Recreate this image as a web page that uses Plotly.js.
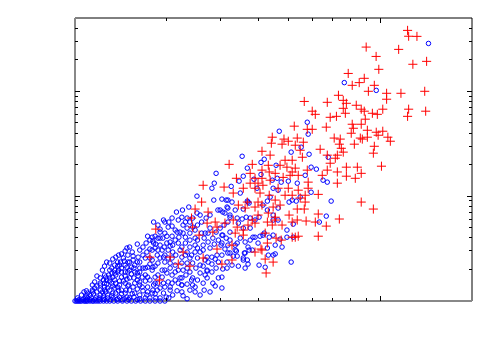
<!DOCTYPE html>
<html>
<head>
<meta charset="utf-8">
<script src="https://cdn.plot.ly/plotly-3.0.1.min.js"></script>
<style>html,body{margin:0;padding:0;background:#fff}</style>
</head>
<body>
<div id="chart" style="width:500px;height:350px"></div>
<script>
const redX = [
12.3,12.4,13.2,9.0,11.5,9.7,14.2,12.8,9.9,7.86,
8.87,8.54,8.1,9.57,9.15,10.5,11.7,14.0,10.5,7.3,
6.71,7.57,7.75,5.64,7.57,8.35,8.67,8.87,10.2,9.43,
9.79,12.4,14.1,12.3,7.69,7.19,6.86,5.99,6.13,6.66,
8.94,8.67,8.1,8.17,8.04,9.08,9.71,10.2,9.85,10.6,
10.8,9.08,8.74,8.23,7.07,7.4,7.35,7.46,9.57,5.23,
5.99,4.43,5.35,4.84,5.77,4.4,4.77,5.0,5.6,5.27,
8.61,9.5,7.24,7.57,6.36,6.71,7.13,4.1,4.36,4.88,
5.15,5.56,5.47,3.2,3.81,3.75,4.1,4.33,4.53,4.7,
5.15,5.27,5.77,5.81,6.46,6.71,6.86,7.24,7.75,8.42,
8.67,8.29,7.75,7.24,10.1,3.38,3.75,3.98,4.13,4.81,
5.07,4.36,3.3,3.08,3.56,3.89,4.33,4.63,5.0,5.15,
5.47,5.68,5.81,6.27,5.68,5.64,5.35,3.67,3.98,4.1,
4.46,3.89,8.67,9.5,7.35,6.66,6.27,6.27,6.13,5.72,
5.35,5.03,5.15,5.39,5.15,4.53,4.43,4.27,3.89,3.81,
3.56,3.4,3.3,3.1,4.27,3.89,4.1,4.77,3.27,3.27,
3.03,2.38,4.07,4.46,4.23,4.2,2.92,4.56,4.74,5.27,
2.63,2.6,2.475,2.41,2.73,2.88,2.71,3.61,3.43,4.04,
4.53,4.3,4.53,4.2,3.35,3.56,2.92,1.84,1.76,2.05,
1.89,2.18,2.43,2.55,2.83,2.26,2.63,
3.89,4.1,4.3,4.95,5.39,4.88,4.7,3.98,3.69,5.39
];
const redY = [
381,335,334,264,251,215,193,181,162,148,
133,121,114,114,100,95.7,95.7,100,84,91.6,
78.5,82,76.8,80,68.8,73.6,67.5,64.6,67.5,61.7,
60.3,67.5,64.6,57.7,61.7,57.7,56.5,64.6,60.3,45.5,
54.2,48.5,48.5,44.4,39.8,42.5,40.7,41.6,38.1,36.5,
33.4,36.5,35,31.3,35.8,35,31.3,28.6,29.9,46.5,
43.4,36.5,35.8,35,43.4,32,31.3,33.4,32.7,30.6,
35.8,25.7,24.6,26.3,28,24.6,23,26.8,24.6,22,
22,23.5,27.4,20.1,20.1,16.5,17.7,17,16.5,19.7,
17,18.5,17.7,13.6,15.8,17.7,20.6,17,18.9,18.9,
16.5,14.8,15.5,13.3,19.3,14.8,13.3,13.3,12.7,15.1,
15.8,14.2,10.7,12.2,11.9,11.9,10.2,11.9,11.9,10.2,
9.6,10.2,11.9,10.4,8.78,7.53,7.53,8.78,8.78,8.22,
7.87,7.87,8.78,7.53,6.05,5.18,4.15,6.75,5.66,5.79,
5.92,6.6,5.66,4.15,4.06,6.3,5.3,5.66,5.53,5.92,
4.25,5.07,5.92,5.53,3.57,2.93,3.06,5.3,3.41,2.46,
2.25,2.15,3.13,2.35,1.85,2.51,3.13,3.98,3.81,4.06,
12.7,8.78,7.53,6.18,7.05,5.66,5.53,7.7,8.22,10.7,
9.17,6.9,5.92,4.44,4.44,4.75,5.07,4.85,2.62,2.62,
1.585,2.25,5.07,4.25,4.54,2.93,2.57,
14.8,14.8,19.7,18.9,15.8,10.2,8.22,6.6,5.3,11.4
];
const blueX = [
14.4,7.63,9.71,5.77,4.67,5.81,5.51,5.11,5.85,6.76,
3.53,4.07,4.17,4.56,5.94,6.18,5.68,3.67,3.56,3.45,
4.07,3.86,4.43,4.6,4.74,5.0,5.35,6.5,6.71,3.25,
3.95,4.46,4.63,3.48,5.94,3.03,3.13,3.27,3.67,3.72,
4.36,4.27,4.13,4.27,4.63,5.03,5.15,5.31,5.47,6.91,
2.99,3.15,3.1,3.35,3.56,3.22,3.4,3.64,3.75,4.01,
3.89,4.46,4.63,4.46,5.19,6.32,6.66,4.95,5.19,4.95,
4.7,4.77,4.53,4.33,4.17,4.04,3.83,3.75,3.56,3.43,
3.22,3.05,3.4,3.35,3.69,3.81,3.22,3.56,3.61,4.46,
4.3,3.01,5.11,4.53,4.27,4.01,4.2,3.69,3.61,3.56,
3.43,3.67,3.59,3.72,3.38,3.35,3.05,3.03,3.03,2.83,
2.71,2.71,2.63,2.65,2.475,2.475,2.33,2.81,2.88,3.17,
2.57,2.43,2.33,2.24,2.24,2.33,2.52,2.67,2.43,2.9,
2.86,2.81,2.51,2.85,3.17,2.36,2.25,2.33,2.57,2.94,
3.05,3.17,3.22,3.53,3.69,2.21,2.43,2.6,2.77,3.03,
3.89,4.13,4.46,2.15,1.95,2.03,2.02,1.9,1.79,1.87,
1.97,2.16,2.26,2.19,2.05,2.18,2.3,2.38,2.475,2.67,
2.73,2.63,1.81,1.93,1.95,1.86,2.09,2.24,2.33,2.41,
2.57,2.71,2.71,2.57,2.33,2.26,2.05,1.93,1.8,2.13,
1.83,2.02,2.21,2.41,2.43,2.24,2.05,2.16,1.86,1.9,
2.03,1.81,1.79,1.95,1.79,1.83,1.9,2.0,2.09,2.24,
2.08,1.97,1.87,1.79,2.0,2.08,2.18,1.95,1.87,2.05,
1.73,1.8,1.6,1.79,1.54,1.49,1.44,1.4,1.35,1.3,
1.25,1.21,1.16,1.14,1.09,1.05,1.02,1.55,1.61,1.46,
1.38,1.32,1.27,1.21,1.16,1.12,1.23,1.28,1.35,1.42,
1.51,1.57,1.63,1.7,1.76,1.67,1.73,1.6,1.51,1.46,
1.38,1.33,1.28,1.66,1.73,1.57,1.51,1.46,1.4,1.66,
1.73,1.57,1.63,1.72,1.8,1.76,1.51,1.3,1.25,1.32,
1.4,1.46,1.49,1.38,1.42,1.35,1.57,1.63,1.7,1.63,
1.49,1.42,1.35,1.25,1.18,1.15,1.21,1.09,1.14,1.0,
1.01,1.02,1.03,1.04,1.05,1.07,1.08,1.09,1.10,1.12,
1.14,1.15,1.17,1.19,1.21,1.24,1.27,1.3,1.34,1.38,
1.43,1.48,1.53,1.58,1.64,1.7,1.76,1.83,1.9,1.97,
1.08,1.1,1.13,1.17,1.2,1.24,1.28,1.33,
1.18,1.23,1.25,1.27,1.30,1.33,1.36,1.39,1.42,1.46,
1.48,1.51,1.21,1.24,1.26,1.29,1.32,1.35,1.38,1.41,
1.45,1.48,1.51,1.55,1.25,1.27,1.30,1.33,1.36,1.39,
1.42,1.46,1.49,1.53,1.56,1.6,1.21,1.24,1.26,1.30,
1.33,1.36,1.40,1.44,1.48,1.53,1.56,1.61,1.32,1.36,
1.39,1.42,1.47,1.5,1.55,1.6,1.63,1.6,1.54,1.48,
1.38,1.45,1.56,1.63,1.7,1.84,1.18,1.14,1.10,1.07,
1.63,1.67,1.71,1.76,1.83,1.67,1.72,1.76,1.84,1.9,
1.87,1.96,2.02,2.05,2.13,2.08,1.94,2.0,2.13,2.08,
1.81,1.87,1.97,2.08,2.18,2.24,1.9,2.26,2.33,2.38,
1.63,1.7,1.76,1.83,1.9,1.97,2.02,2.14,2.21,2.3,
1.7,1.76,1.83,1.87,1.93,1.97,2.05,2.13,2.18,2.24,
1.67,1.73,1.83,1.9,1.97,2.08,2.13,2.09,1.99,2.24,
2.3,2.38,2.475,2.52,2.6,2.69,2.77,2.3,2.43,2.51,
2.38,2.475,2.52,2.65,2.73,2.83,2.9,2.99,3.08,3.17,
2.38,2.475,2.52,2.63,2.77,2.86,2.95,3.03,3.13,3.22,
2.31,2.38,2.49,2.63,2.73,2.81,2.92,3.03,3.1,3.17,
2.52,2.67,2.81,2.9,2.95,3.15,3.3,3.15,3.27,3.4,
2.57,2.77,2.88,2.95,2.38,2.26,3.48,3.61,3.75,3.98,
1.03,1.06,1.09,1.12,1.16,1.2,1.25,1.31,1.37,1.43,1.5,1.6
];
const blueY = [
286,121,102,50.7,41.6,39,29.3,26.3,25.1,23.5,
24,21,22.5,19.7,18.9,18.1,15.8,18.5,15.5,13.9,
16.1,14.5,14.2,14.8,13.6,13.9,13.3,14.2,13.6,12.4,
11.9,11.9,11.4,10.7,10.9,9.37,9.17,8.78,8.97,8.59,
9.8,8.97,8.22,7.37,7.7,8.78,9.17,8.97,9.8,8.97,
7.37,7.87,6.9,7.37,7.53,6.3,6.18,6.3,6.18,6.3,
5.92,6.6,5.92,5.92,5.41,5.66,6.45,4.75,4.06,4.06,
3.89,3.27,3.41,4.06,4.44,4.15,4.06,4.96,4.96,5.53,
4.54,4.25,3.57,3.06,3.27,3.06,2.87,2.57,2.87,2.74,
2.74,3.41,2.35,2.81,3.2,2.2,2.1,2.25,2.06,2.46,
2.15,2.46,2.87,3.06,3.0,3.41,2.02,1.69,1.33,1.48,
1.66,1.93,1.48,1.27,1.36,1.22,1.05,2.25,2.51,2.87,
1.85,1.66,1.45,1.66,1.42,2.06,2.57,2.46,2.3,16.5,
13.3,11.9,10,9.17,9.17,7.87,7.37,6.18,6.6,7.37,
7.05,7.7,6.6,6.05,8.78,4.54,5.07,4.44,4.96,4.25,
4.06,4.25,4.25,7.05,5.92,5.66,5.07,4.85,4.06,3.98,
4.44,4.54,4.44,4.06,3.65,3.57,3.57,3.27,3.98,4.44,
3.65,3.41,3.57,3.06,2.62,2.74,2.93,2.62,2.93,2.74,
2.93,2.62,1.97,2.2,2.3,1.97,2.3,1.97,2.1,1.89,
1.69,1.52,1.66,1.585,1.42,1.42,1.36,1.25,1.27,1.07,
1.07,1.42,1.19,1.19,2.46,3.2,3.41,3.57,3.41,3.27,
2.57,2.35,2.3,1.97,1.85,1.77,1.48,1.48,1.48,1.27,
4.15,3.73,3.49,3.06,2.93,2.74,2.57,2.2,2.2,1.97,
1.77,1.66,1.52,1.42,1.25,1.14,1.07,2.46,2.62,2.2,
1.89,1.85,1.585,1.42,1.33,1.14,1.22,1.33,1.585,1.69,
1.97,2.2,2.35,2.57,2.57,2.06,2.1,1.85,1.66,1.48,
1.36,1.19,1.14,1.69,1.69,1.48,1.27,1.19,1.09,1.36,
1.36,1.19,1.14,1.14,1.27,1.07,1.07,1.66,1.48,1.48,
1.55,1.89,2.35,2.35,2.06,1.85,1.89,2.06,1.77,1.52,
1.39,1.27,1.33,1.27,1.22,1.17,1.14,1.12,1.27,1.0,
1,1,1,1,1,1,1,1,1,1,
1,1,1,1,1,1,1,1,1,1,
1,1,1,1,1,1,1,1,1,1,
1.07,1.07,1.07,1.07,1.07,1.07,1.07,1.07,
1.73,1.97,2.15,2.35,2.3,2.51,2.62,2.74,2.81,3,
3.2,3.27,1.48,1.585,1.69,1.77,2.06,1.97,2.15,2.35,
2.4,2.1,2.35,2.68,1.36,1.45,1.55,1.69,1.77,1.97,
1.89,1.73,1.89,2.1,2.06,2.35,1.27,1.12,1.22,1.27,
1.39,1.48,1.42,1.55,1.62,1.81,1.66,1.73,1.12,1.19,
1.25,1.17,1.27,1.42,1.36,1.585,1.42,1.3,1.17,1.09,
1.05,1.05,1.09,1.05,1.07,1.07,1.39,1.22,1.19,1.22,
3.06,3.27,3.57,3.81,4.15,2.74,2.93,3.13,3.49,3.98,
3.06,3.27,3.06,3.34,3.81,4.15,3.98,4.15,4.75,5.18,
5.66,5.3,5.66,6.18,5.92,6.3,4.54,5.3,4.96,5.66,
1.89,2.06,2.25,2.15,2.57,2.74,2.57,2.74,3.06,2.74,
1.55,1.585,1.48,1.77,1.69,1.97,2.06,2.2,1.97,2.3,
1.25,1.22,1.17,1.33,1.36,1.48,1.585,1.14,1.09,1.22,
4.06,4.44,4.75,5.3,5.66,6.18,6.6,5.66,6.18,6.9,
3.81,3.41,3.81,3.98,4.44,3.98,4.54,4.96,5.3,5.66,
2.57,2.93,3.2,3.06,3.2,3.49,3.81,3.57,3.98,3.81,
1.77,1.89,2.06,2.15,2.35,2.62,2.74,2.74,3.13,3.41,
1.585,1.77,1.89,2.06,2.35,2.35,2.68,2.06,2.2,2.68,
1.14,1.22,1.39,1.66,1.27,1.12,3.98,3.65,3.81,3.57,
1.03,1.03,1.03,1.03,1.03,1.03,1.03,1.03,1.03,1.03,1.03,1.03
];
const xRange = [1, 20];
const yRange = [1, 500];
const xMajor = [10];
const xMinor = [2,3,4,5,6,7,8,9];
const yMajor = [10,100];
const yMinor = [2,3,4,5,6,7,8,9,20,30,40,50,60,70,80,90,200,300,400];

const axisBase = {
  type:'log', showgrid:false, zeroline:false, showline:false,
  showticklabels:false, mirror:'ticks', ticks:'inside', ticklen:5, tickwidth:1, tickcolor:'#000'
};
const data = [
  {x:blueX, y:blueY, type:'scatter', mode:'markers', cliponaxis:false, showlegend:false,
   marker:{symbol:'circle-open', size:4.5, color:'#0000ff', line:{width:1,color:'#0000ff'}}},
  {x:redX, y:redY, type:'scatter', mode:'markers', cliponaxis:false, showlegend:false,
   marker:{symbol:'cross-thin-open', size:6.5, color:'#ff0000', line:{width:1,color:'#ff0000'}}}
];
const frame = (x0,y0,x1,y1,color,width) => ({type:'line', xref:'paper', yref:'paper', layer:'below',
  x0, y0, x1, y1, line:{color, width}});
const layout = {
  width:500, height:350, margin:{l:75, r:28, t:18, b:49},
  paper_bgcolor:'#fff', plot_bgcolor:'#fff', showlegend:false,
  xaxis:Object.assign({}, axisBase, {range:xRange.map(Math.log10), tickmode:'array', tickvals:xMajor,
    minor:{tickmode:'array', tickvals:xMinor, ticks:'inside', ticklen:3, tickwidth:1, tickcolor:'#000', showgrid:false}}),
  yaxis:Object.assign({}, axisBase, {range:yRange.map(Math.log10), tickmode:'array', tickvals:yMajor,
    minor:{tickmode:'array', tickvals:yMinor, ticks:'inside', ticklen:3, tickwidth:1, tickcolor:'#000', showgrid:false}}),
  shapes:[
    frame(0,1,1,1,'#000',1),
    frame(1,0,1,1,'#000',1),
    frame(0,0,1,0,'#888',2),
    frame(0,0,0,1,'#888',2)
  ]
};
Plotly.newPlot('chart', data, layout, {staticPlot:true, displayModeBar:false});
</script>
</body>
</html>
